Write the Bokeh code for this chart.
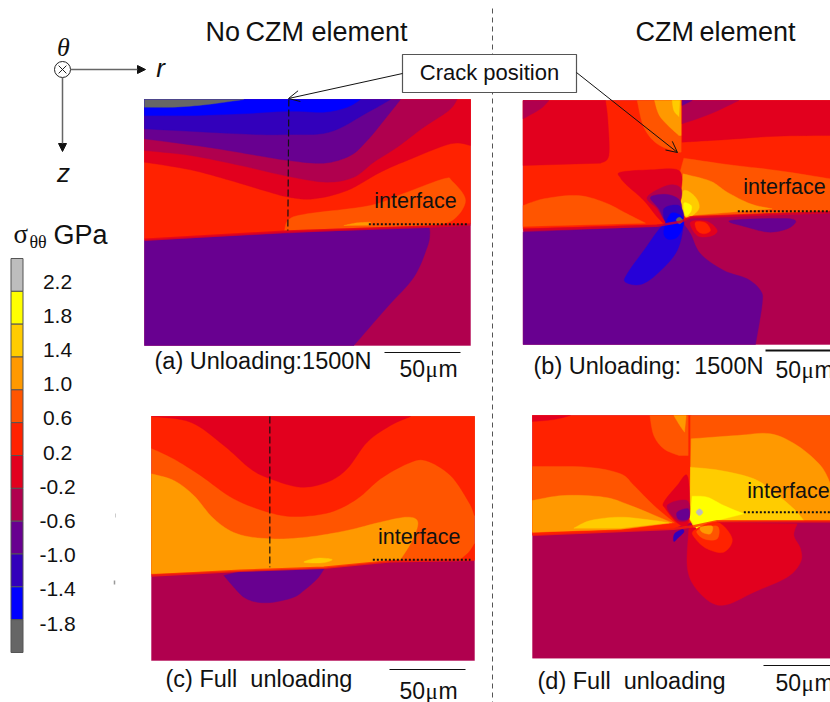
from bokeh.plotting import figure
from bokeh.models import Range1d, Arrow, OpenHead, NormalHead
from bokeh.core.properties import value
from bokeh.embed import file_html
from bokeh.resources import INLINE
import numpy as np

# stress levels and colour bar
BAR_COLOURS = ["#bdbdbd", "#ffff00", "#ffcc00", "#ff9900", "#ff5500", "#ff2200",
               "#e2001e", "#b0004e", "#680090", "#3300bb", "#0000ff", "#666666"]
BAR_LABELS = ["2.2", "1.8", "1.4", "1.0", "0.6", "0.2", "-0.2", "-0.6", "-1.0", "-1.4", "-1.8"]
BAR_VALUES = [2.2, 1.8, 1.4, 1.0, 0.6, 0.2, -0.2, -0.6, -1.0, -1.4, -1.8]
W, L, Y, A, O, R, C, M, P, I, B, G = BAR_COLOURS
LOBE = "#2600d8"

# Each contour band: (colour, smooth curve, straight closing corners); coordinates in the
# panel's own 3x crop units.  An empty corner list means a closed smooth blob.
PANEL_A = [
    (M, [], [(12, 27), (990, 27), (990, 765), (12, 765)]),
    (P, [(865, 408), (868, 430), (860, 470), (820, 560), (740, 650), (640, 765)], [(12, 765), (12, 450)]),
    (R, [], [(12, 27), (990, 27), (990, 400), (860, 408), (440, 422), (12, 447)]),
    (O, [(432, 420), (445, 387), (500, 370), (690, 345), (800, 305), (910, 265), (935, 272), (975, 330), (935, 390), (860, 405)], [(600, 414)]),
    (A, [(610, 405), (650, 397), (690, 395)], [(690, 404)]),
    (C, [(12, 215), (150, 238), (270, 270), (370, 300), (445, 320), (520, 325), (620, 300), (720, 245), (800, 210), (930, 160), (990, 165)], [(990, 27), (12, 27)]),
    (M, [(12, 180), (150, 195), (300, 225), (445, 258), (560, 275), (640, 260), (700, 215), (770, 170), (850, 110), (925, 60), (950, 27)], [(12, 27)]),
    (P, [(12, 145), (200, 170), (350, 195), (445, 210), (550, 218), (630, 195), (680, 150), (730, 90), (780, 27)], [(12, 27)]),
    (I, [(12, 115), (200, 125), (350, 132), (445, 132), (540, 130), (600, 112), (665, 75), (710, 50), (750, 27)], [(12, 27)]),
    (B, [(12, 75), (150, 75), (300, 70), (445, 62), (550, 65), (620, 50), (660, 27)], [(12, 27)]),
    (G, [(12, 50), (100, 50), (200, 42), (310, 27)], [(12, 27)]),
]
PANEL_B = [
    (M, [], [(38, 30), (960, 30), (960, 762), (38, 762)]),
    (P, [(515, 395), (540, 430), (570, 490), (640, 540), (710, 565), (750, 600), (755, 640), (735, 762)], [(38, 762), (38, 425), (440, 408)]),
    (R, [], [(38, 30), (960, 30), (960, 362), (540, 378), (510, 392), (440, 403), (38, 415)]),
    (C, [(285, 30), (292, 90), (295, 195), (270, 218)], [(38, 225), (38, 30)]),
    (M, [(115, 30), (90, 55), (38, 85)], [(38, 30)]),
    (O, [(380, 30), (400, 110), (440, 160), (500, 185)], [(512, 185), (512, 30)]),
    (A, [(432, 30), (450, 80), (505, 135)], [(512, 135), (512, 30)]),
    (Y, [(485, 30), (490, 60), (505, 78)], [(508, 30)]),
    (C, [(515, 155), (650, 147), (800, 137), (960, 135)], [(960, 30), (515, 30)]),
    (M, [(515, 100), (600, 70), (685, 30)], [(515, 30)]),
    (P, [(515, 45), (545, 30)], [(515, 30)]),
    (O, [(520, 203), (650, 222), (800, 240), (960, 265)], [(960, 362), (540, 378), (512, 372), (510, 240)]),
    (A, [(518, 250), (600, 272), (650, 305), (720, 340), (785, 355)], [(540, 375), (512, 372), (510, 300)]),
    (Y, [(520, 300), (555, 320), (565, 355), (530, 382), (512, 350)], []),
    (L, [(520, 338), (542, 345), (540, 365), (525, 375)], []),
    (O, [(38, 345), (100, 325), (200, 315), (280, 335), (350, 370), (405, 398)], [(38, 408)]),
    (C, [(330, 245), (420, 238), (505, 240), (512, 300), (495, 350), (465, 395), (445, 385), (400, 330), (350, 285), (330, 262)], []),
    (M, [(410, 320), (470, 285), (508, 290), (512, 325), (485, 380), (465, 392), (440, 355)], []),
    (P, [(420, 320), (470, 312), (508, 330), (510, 370), (470, 395), (445, 355)], []),
    (I, [(460, 355), (505, 345), (520, 380), (500, 405), (470, 405)], []),
    (LOBE, [(515, 395), (500, 480), (440, 550), (390, 582), (345, 575), (350, 550), (400, 480), (462, 400)], []),
    (B, [(480, 370), (510, 375), (520, 400), (500, 440), (470, 445), (460, 420)], []),
    (C, [(540, 395), (590, 393), (620, 420), (600, 437), (560, 435)], []),
    (R, [(555, 395), (585, 397), (600, 420), (580, 430), (560, 420)], []),
    (P, [(660, 390), (840, 385), (840, 410), (780, 425), (710, 410)], []),
    (G, [(497, 388), (507, 380), (517, 390), (507, 400)], []),
]
PANEL_C = [
    (M, [], [(33, 33), (1002, 33), (1002, 765), (33, 765)]),
    (P, [(250, 510), (280, 545), (310, 575), (350, 590), (400, 590), (460, 575), (490, 555), (530, 520), (552, 488)], [(300, 497)]),
    (O, [], [(33, 33), (1002, 33), (1002, 462), (750, 466), (550, 486), (300, 495), (33, 507)]),
    (A, [(33, 205), (100, 225), (160, 270), (220, 340), (290, 385), (390, 400), (500, 395), (620, 375), (720, 350), (800, 335), (832, 350), (815, 405), (780, 462)], [(550, 486), (300, 495), (33, 505)]),
    (Y, [(490, 470), (530, 458), (575, 462), (545, 472)], []),
    (R, [(33, 128), (100, 160), (180, 210), (280, 280), (390, 322), (470, 333), (570, 320), (650, 280), (720, 220), (800, 175), (855, 165), (930, 210), (985, 290), (1002, 330)], [(1002, 33), (33, 33)]),
    (R, [(960, 462), (985, 440), (1002, 415)], [(1002, 462)]),
    (C, [(33, 33), (150, 50), (250, 120), (330, 190), (390, 220), (480, 245), (560, 230), (620, 190), (680, 110), (750, 60), (810, 33)], [(33, 33)]),
]
PANEL_D = [
    (M, [], [(36, 30), (930, 30), (930, 758), (36, 758)]),
    (C, [(505, 370), (500, 480), (520, 540), (570, 590), (620, 597), (700, 560), (800, 515), (840, 470), (840, 430), (820, 390), (830, 355)], [(520, 350)]),
    (R, [], [(36, 30), (512, 30), (512, 350), (460, 368), (36, 388)]),
    (C, [(150, 30), (100, 42), (36, 48)], [(36, 30)]),
    (O, [(388, 30), (400, 90), (430, 130), (475, 150)], [(503, 150), (503, 30)]),
    (A, [(460, 30), (478, 60), (492, 80)], [(497, 30)]),
    (O, [(36, 183), (200, 185), (300, 205), (340, 240), (400, 300), (462, 352)], [(36, 382)]),
    (A, [(36, 285), (130, 270), (250, 275), (330, 300), (455, 352)], [(300, 372), (36, 380)]),
    (Y, [(160, 368), (210, 345), (300, 335), (400, 345), (445, 352)], [(300, 368)]),
    (O, [], [(510, 30), (930, 30), (930, 345), (590, 345), (520, 362), (505, 340), (510, 200)]),
    (A, [(512, 100), (650, 90), (750, 85), (830, 120), (900, 180), (930, 235)], [(930, 345), (590, 345), (520, 362), (508, 340)]),
    (Y, [(510, 185), (600, 195), (700, 220), (760, 260), (820, 310), (850, 345)], [(590, 347), (520, 365), (508, 340)]),
    (L, [(515, 272), (560, 275), (610, 300), (670, 325)], [(590, 345), (530, 372), (508, 340)]),
    (C, [(430, 290), (470, 240), (500, 210), (508, 300), (500, 360), (470, 352), (435, 310)], []),
    (M, [(440, 300), (500, 285), (505, 340), (470, 345)], []),
    (P, [(470, 320), (503, 310), (503, 340), (475, 342)], []),
    (I, [(462, 385), (485, 372), (490, 380), (475, 395), (460, 408)], []),
    (R, [(520, 375), (590, 350), (635, 400), (610, 440), (560, 430), (525, 400)], []),
    (O, [(530, 375), (590, 362), (590, 400), (550, 400)], []),
    (A, [(540, 365), (575, 362), (570, 385), (545, 380)], []),
    (W, [(527, 320), (537, 310), (547, 320), (537, 330)], []),
]

PANEL_ORIGIN = {"a": (140, 90), "b": (510, 90), "c": (140, 405), "d": (520, 405)}
PANEL_RECT = {"a": (12, 990, 27, 765), "b": (38, 960, 30, 762), "c": (33, 1002, 33, 765), "d": (36, 930, 30, 758)}
PANEL_DATA = {"a": PANEL_A, "b": PANEL_B, "c": PANEL_C, "d": PANEL_D}
INTERFACE = {
    "a": ([12, 440, 860, 990], [448, 423, 409, 402], C),
    "b": ([38, 440, 510, 540, 960], [418, 406, 394, 380, 365], C),
    "c": ([33, 300, 550, 750, 1002], [510, 496, 487, 467, 463], R),
    "d": ([36, 460, 520, 590, 930], [388, 370, 362, 347, 347], R),
}
DOTTED = {"a": ([685, 980], [401, 401]), "b": ([682, 960], [362, 362]), "c": ([697, 990], [463, 463]), "d": ([670, 930], [320, 320])}
DASHED = {"a": ([445, 442], [27, 420]), "c": ([388, 388], [33, 485])}
IFACE_TEXT = {"a": (825, 330), "b": (822, 290), "c": (836, 393), "d": (804, 255)}
CAPTIONS = [("(a) Unloading:1500N", 154, 360), ("(b) Unloading:\u00a0 1500N", 533, 365),
            ("(c) Full\u00a0 unloading", 165, 678), ("(d) Full\u00a0 unloading", 537, 680)]
SCALE_BARS = [(384, 460, 352, 1.2), (765, 830, 350, 2), (389, 465, 669, 1.2), (763, 830, 665, 1.2)]
SCALE_TEXT = [(399, 368), (775, 369), (399, 690), (775, 682)]


def spline(pts, closed):
    pts = np.array(pts, float)
    if closed:
        ctrl = np.vstack([pts[-1], pts, pts[0], pts[1]])
    else:
        ctrl = np.vstack([pts[0], pts, pts[-1]])
    out = []
    for i in range(1, len(ctrl) - 2):
        p0, p1, p2, p3 = ctrl[i - 1], ctrl[i], ctrl[i + 1], ctrl[i + 2]
        for t in np.linspace(0, 1, 8, endpoint=False):
            out.append(0.5 * (2 * p1 + (p2 - p0) * t + (2 * p0 - 5 * p1 + 4 * p2 - p3) * t ** 2 + (3 * p1 - p0 - 3 * p2 + p3) * t ** 3))
    if not closed:
        out.append(ctrl[-2])
    return np.array(out)


p = figure(width=830, height=702, x_range=Range1d(0, 830), y_range=Range1d(702, 0),
           output_backend="svg", toolbar_location=None, min_border=0)
p.axis.visible = False
p.grid.visible = False
p.outline_line_color = None
SANS = value("Liberation Sans")
SERIF = value("Liberation Serif")


def txt(x, y, s, size, font=SANS, align="left", style="normal", color="#111111"):
    p.text([x], [y], text=[s], text_font=font, text_font_size=value(f"{size}px"), text_align=align,
           text_baseline="middle", text_font_style=style, text_color=color)


for key, regions in PANEL_DATA.items():
    ox, oy = PANEL_ORIGIN[key]
    x0, x1, y0, y1 = PANEL_RECT[key]
    xs, ys, cs = [], [], []
    for colour, curve, corners in regions:
        parts = []
        if curve:
            parts.append(spline(curve, closed=not corners))
        if corners:
            parts.append(np.array(corners, float))
        poly = np.vstack(parts)
        xs.append(list(ox + np.clip(poly[:, 0], x0, x1) / 3))
        ys.append(list(oy + np.clip(poly[:, 1], y0, y1) / 3))
        cs.append(colour)
    p.patches(xs, ys, fill_color=cs, line_color=cs, line_width=0.4)
    ix, iy, ic = INTERFACE[key]
    p.line([ox + v / 3 for v in ix], [oy + v / 3 for v in iy], line_color=ic, line_width=2.5, line_alpha=0.75)
    dx, dy = DOTTED[key]
    p.line([ox + v / 3 for v in dx], [oy + v / 3 for v in dy], line_color="#111111", line_width=2, line_dash="2 2")
    if key in DASHED:
        dx, dy = DASHED[key]
        p.line([ox + v / 3 for v in dx], [oy + v / 3 for v in dy], line_color="#111111", line_width=1.2, line_dash="7 3")
    tx, ty = IFACE_TEXT[key]
    txt(ox + tx / 3, oy + ty / 3, "interface", 21.5, align="center")

for s, x, y in CAPTIONS:
    txt(x, y, s, 23.5)
for x0, x1, y, w in SCALE_BARS:
    p.line([x0, x1], [y, y], line_color="#111111", line_width=w)
for x, y in SCALE_TEXT:
    txt(x, y, "50", 23)
    txt(x + 26, y + 1, "\u03bc", 23, font=SERIF)
    txt(x + 39, y, "m", 23)

# colour bar
BAR_X0, BAR_X1, BAR_TOP, BAR_BOTTOM = 10.5, 22.5, 258, 652
edges = np.linspace(BAR_TOP, BAR_BOTTOM, len(BAR_COLOURS) + 1)
p.quad(left=BAR_X0, right=BAR_X1, top=edges[:-1], bottom=edges[1:], fill_color=BAR_COLOURS,
       line_color=["#555555"] * len(BAR_COLOURS), line_width=1)
for v, s in zip(BAR_VALUES, BAR_LABELS):
    txt(57, 281 + (2.2 - v) * 85.5, s, 21, align="center")
txt(13, 233, "\u03c3", 27, font=SERIF)
txt(29, 241, "\u03b8\u03b8", 18, font=SERIF)
txt(53, 234, "GPa", 27)
p.line([115, 115], [513, 517], line_color="#cccccc", line_width=1)
p.line([114, 114], [580, 584], line_color="#999999", line_width=1.5)

# headings
txt(306, 31, "No\u2009CZM element", 27, align="center")
txt(715, 31, "CZM\u2009element", 27, align="center")
p.line([492, 492], [8, 702], line_color="#555555", line_width=1, line_dash="5 4")

# axes sketch
p.scatter([62], [69], size=16, fill_color="white", line_color="#222222", line_width=1)
p.scatter([62], [69], size=11, marker="x", line_color="#222222", line_width=1)
p.add_layout(Arrow(end=NormalHead(size=8, fill_color="#111111", line_color="#111111"), x_start=70, y_start=69, x_end=145, y_end=69, line_color="#666666", line_width=1.5))
p.add_layout(Arrow(end=NormalHead(size=8, fill_color="#111111", line_color="#111111"), x_start=62, y_start=77, x_end=62, y_end=151, line_color="#666666", line_width=1.5))
txt(63, 47, "\u03b8", 26, font=SERIF, align="center", style="italic")
txt(160, 67, "r", 26, align="center", style="italic")
txt(63, 172, "z", 26, align="center", style="italic")

# crack position call-out
p.add_layout(Arrow(end=OpenHead(size=11, line_color="#111111", line_width=1), x_start=402, y_start=73, x_end=288, y_end=98, line_color="#111111", line_width=1))
p.add_layout(Arrow(end=OpenHead(size=11, line_color="#111111", line_width=1), x_start=576, y_start=72, x_end=677, y_end=152, line_color="#111111", line_width=1))
p.quad(left=402, right=576, top=54, bottom=92, fill_color="white", line_color="#555555", line_width=1.2)
txt(489, 72, "Crack position", 22, align="center")

open("out.html", "w").write(file_html(p, INLINE))
